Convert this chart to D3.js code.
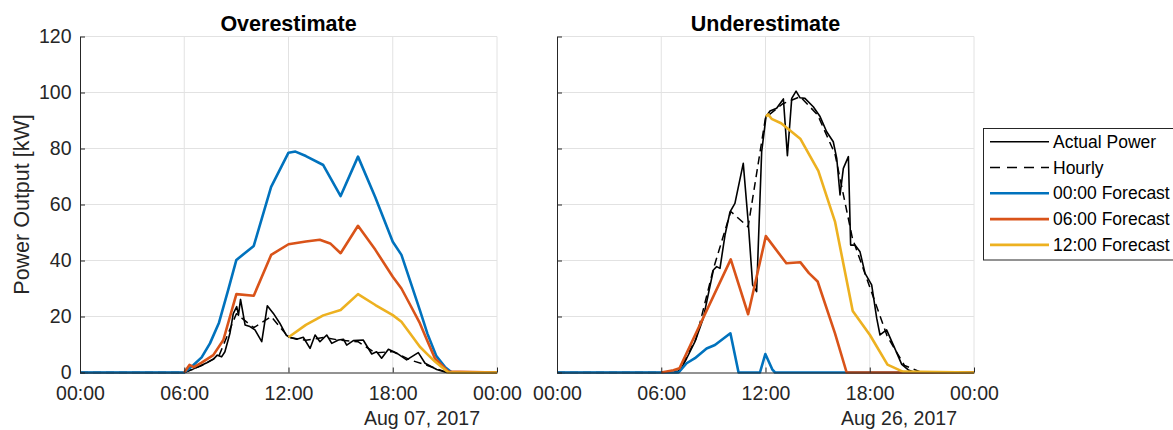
<!DOCTYPE html>
<html>
<head>
<meta charset="utf-8">
<script src="https://cdn.jsdelivr.net/npm/d3@7"></script>
<style>
  body { margin: 0; background: #fff; }
  svg { display: block; font-family: "Liberation Sans", Arial, Helvetica, sans-serif; }
</style>
</head>
<body>
<svg id="chart" width="1173" height="430"></svg>
<script>
// ---- Axis ticks ----
const hourTicks = [0, 6, 12, 18, 24];
const hourTickLabels = ["00:00", "06:00", "12:00", "18:00", "00:00"];
const powerTicks = [0, 20, 40, 60, 80, 100, 120];

// ---- Panel titles and dates ----
const panelTitles = ["Overestimate", "Underestimate"];
const panelDates = ["Aug 07, 2017", "Aug 26, 2017"];
const seriesNames = ["Actual Power", "Hourly", "00:00 Forecast", "06:00 Forecast", "12:00 Forecast"];

// ---- Aug 07, 2017 (overestimate) ----
const overActualTime = [0, 6.0, 6.5, 6.9, 7.3, 7.67, 7.9, 8.15, 8.34, 8.63, 8.82, 9.02, 9.12, 9.24, 9.5, 9.78, 10.07, 10.46, 10.78, 11.13, 11.5, 11.86, 12.05, 12.47, 12.85, 13.24, 13.53, 13.81, 14.2, 14.49, 14.87, 15.16, 15.35, 15.73, 16.3, 16.79, 17.07, 17.36, 17.75, 18.23, 18.8, 19.47, 19.86, 20.53, 21.1, 24];
const overActualKW = [0, 0, 1.2, 2.3, 3.5, 4.7, 6.2, 5.6, 7.4, 14, 21, 23.5, 20.5, 26.1, 17, 16.4, 15.2, 11, 23.8, 21.1, 17.6, 13.4, 12.6, 11.9, 12.6, 8.6, 13.4, 11, 13.4, 10.4, 11.6, 11.9, 9.8, 11.4, 11.6, 6.6, 7.4, 5.1, 8.3, 6.9, 4.5, 7.1, 3.3, 1.1, 0, 0];
const overHourlyTime = [0, 6, 7, 8, 9, 10, 11, 12, 13, 14, 15, 16, 17, 18, 19, 20, 21, 22, 24];
const overHourlyKW = [0, 0, 2.5, 6, 21, 16, 20, 12.6, 11.5, 12.5, 11.5, 11, 7, 7.5, 4.5, 2.5, 0.3, 0, 0];
const overF00Time = [0, 6, 6.53, 7, 7.48, 8, 8.53, 9, 10, 11, 12, 12.4, 13, 14, 15, 16, 17, 18, 18.5, 19, 19.56, 20, 20.5, 21, 21.4, 24];
const overF00KW = [0, 0, 2.7, 5.4, 10.4, 17.8, 29.5, 40.2, 45.2, 66.3, 78.5, 78.9, 77.3, 74.1, 63, 77.1, 62.5, 46.7, 42, 32.7, 22.3, 13.8, 6, 2, 0, 0];
const overF06Time = [6, 6.3, 6.55, 7, 7.67, 8.25, 9, 10, 11, 12, 13, 13.8, 14.4, 15, 16, 17, 18, 18.5, 19, 19.56, 20, 20.43, 21.2, 24];
const overF06KW = [0, 2.7, 1.9, 3.5, 6.2, 11.6, 28, 27.4, 42, 45.8, 46.8, 47.4, 46.1, 42.6, 52.4, 43.8, 34.2, 30, 24.2, 17.6, 11.2, 5, 0.3, 0];
const overF12Time = [12, 13, 14, 15, 16, 17, 18, 18.5, 19, 19.56, 20, 20.43, 21.2, 24];
const overF12KW = [12.6, 17, 20.4, 22.3, 28, 24.1, 20.5, 18.1, 13.9, 9.2, 6.5, 3.9, 0, 0];

// ---- Aug 26, 2017 (underestimate) ----
const underActualTime = [0, 6.9, 7.08, 7.46, 7.94, 8.42, 9.0, 9.19, 9.38, 9.67, 9.96, 10.24, 10.72, 11.01, 11.26, 11.49, 11.78, 12.03, 12.26, 12.64, 13.03, 13.26, 13.51, 13.76, 13.99, 14.27, 14.75, 15.14, 15.52, 15.9, 16.1, 16.29, 16.48, 16.77, 16.9, 17.15, 17.44, 17.73, 18.11, 18.4, 18.59, 18.97, 19.36, 19.84, 20.22, 20.6, 24];
const underActualKW = [0, 0, 0.7, 5, 11, 19.4, 36.6, 37.8, 37.2, 49.1, 57.4, 60.4, 74.7, 53.3, 31.3, 28.9, 78.9, 91.4, 93.4, 94.4, 97.7, 77.4, 97.9, 100.5, 98.1, 97.9, 94.9, 91.4, 86, 82.4, 76.5, 63.4, 72.9, 77.1, 45.5, 45.5, 43.1, 35.4, 31.3, 19.4, 13.4, 15.2, 9.8, 2.9, 0.9, 0, 0];
const underHourlyTime = [0, 6, 7, 8, 9, 10, 11, 12, 13, 14, 15, 16, 17, 18, 19, 20, 21, 24];
const underHourlyKW = [0, 0, 0.5, 12, 37, 57.5, 52, 91, 96, 98.5, 92, 78, 48, 30.5, 13, 2.5, 0, 0];
const underF00Time = [0, 7, 7.46, 7.94, 8.61, 9.09, 9.98, 10.45, 11.68, 11.99, 12.4, 12.55, 24];
const underF00KW = [0, 0, 3.3, 5.1, 8.6, 9.8, 14, 0, 0, 6.6, 1, 0, 0];
const underF06Time = [6, 6.7, 7.05, 10, 11, 12.02, 13.2, 14, 14.5, 15, 16, 16.67, 24];
const underF06KW = [0, 0.8, 1.5, 40.4, 20.8, 48.7, 39, 39.4, 35.5, 32.5, 14, 0, 0];
const underF12Time = [12.03, 12.15, 12.35, 12.9, 14.0, 15.04, 16.0, 17.02, 18.01, 19.02, 19.9, 24];
const underF12KW = [91.4, 92.2, 90.6, 89, 83.5, 72, 53.9, 22, 13.4, 2.8, 0.3, 0];

// ---- Styling ----
const seriesColors = ["#000000", "#000000", "#0072BD", "#D95319", "#EDB120"];
const seriesWidths = [1.6, 1.5, 2.6, 2.6, 2.6];
const seriesDash = [null, "8,5", null, null, null];
const axisColor = "#262626";
const gridColor = "#e2e2e2";

const zip = (t, v) => t.map((h, i) => [h, v[i]]);

const panels = [
  {
    title: panelTitles[0], date: panelDates[0], left: 80, showYLabels: true,
    series: [zip(overActualTime, overActualKW), zip(overHourlyTime, overHourlyKW),
             zip(overF00Time, overF00KW), zip(overF06Time, overF06KW), zip(overF12Time, overF12KW)]
  },
  {
    title: panelTitles[1], date: panelDates[1], left: 557, showYLabels: false,
    series: [zip(underActualTime, underActualKW), zip(underHourlyTime, underHourlyKW),
             zip(underF00Time, underF00KW), zip(underF06Time, underF06KW), zip(underF12Time, underF12KW)]
  }
];

const plotWidth = 417;
const plotTop = 36.5, plotBottom = 372.5;
const svg = d3.select("#chart");

panels.forEach(p => {
  const x = d3.scaleLinear().domain([0, 24]).range([p.left, p.left + plotWidth]);
  const y = d3.scaleLinear().domain([0, 120]).range([plotBottom, plotTop]);
  const g = svg.append("g");

  // grid
  g.append("g").selectAll("line.h").data(powerTicks.slice(1)).join("line")
    .attr("x1", x(0)).attr("x2", x(24)).attr("y1", d => y(d)).attr("y2", d => y(d))
    .attr("stroke", gridColor).attr("stroke-width", 1);
  g.append("g").selectAll("line.v").data(hourTicks.slice(1)).join("line")
    .attr("x1", d => x(d)).attr("x2", d => x(d)).attr("y1", y(0)).attr("y2", y(120))
    .attr("stroke", gridColor).attr("stroke-width", 1);

  // series
  const line = d3.line().x(d => x(d[0])).y(d => y(d[1]));
  p.series.forEach((data, i) => {
    g.append("path").datum(data)
      .attr("d", line)
      .attr("fill", "none")
      .attr("stroke", seriesColors[i])
      .attr("stroke-width", seriesWidths[i])
      .attr("stroke-linejoin", "round")
      .attr("stroke-dasharray", seriesDash[i]);
  });

  // axes
  const xAxis = d3.axisBottom(x).tickValues(hourTicks)
    .tickFormat((d, i) => hourTickLabels[i])
    .tickSizeInner(-5).tickSizeOuter(0).tickPadding(13.5);
  const yAxis = d3.axisLeft(y).tickValues(powerTicks)
    .tickFormat(p.showYLabels ? d3.format("d") : () => "")
    .tickSizeInner(-5).tickSizeOuter(0).tickPadding(8.5);

  const xg = g.append("g").attr("transform", `translate(0,${plotBottom})`).call(xAxis);
  const yg = g.append("g").attr("transform", `translate(${p.left},0)`).call(yAxis);
  [xg, yg].forEach(a => {
    a.select(".domain").attr("stroke", axisColor).attr("stroke-width", 1);
    a.selectAll(".tick line").attr("stroke", axisColor);
    a.selectAll(".tick text").attr("fill", axisColor)
      .style("font-size", "19.5px").style("font-family", "'Liberation Sans', Arial, sans-serif");
  });

  // title
  g.append("text").attr("x", x(12)).attr("y", 31)
    .attr("text-anchor", "middle").attr("font-weight", "bold")
    .attr("font-size", "21.5px").attr("fill", "#000").text(p.title);

  // date label
  g.append("text").attr("x", x(24) - 17).attr("y", 425)
    .attr("text-anchor", "end").attr("font-size", "19.5px")
    .attr("fill", axisColor).text(p.date);
});

// y label
svg.append("text")
  .attr("transform", `translate(29,${(plotTop + plotBottom) / 2}) rotate(-90)`)
  .attr("text-anchor", "middle").attr("font-size", "21.5px")
  .attr("fill", axisColor).text("Power Output [kW]");

// legend
const legend = svg.append("g");
legend.append("rect").attr("x", 983.5).attr("y", 128.5).attr("width", 200).attr("height", 131.5)
  .attr("fill", "#fff").attr("stroke", axisColor).attr("stroke-width", 1);
seriesNames.forEach((name, i) => {
  const ly = 141.7 + i * 25.8;
  legend.append("line").attr("x1", 990).attr("x2", 1049).attr("y1", ly).attr("y2", ly)
    .attr("stroke", seriesColors[i]).attr("stroke-width", i < 2 ? 1.6 : 2.6)
    .attr("stroke-dasharray", i === 1 ? "10,7" : null);
  legend.append("text").attr("x", 1053).attr("y", ly).attr("dy", "0.35em")
    .attr("font-size", "17.5px").attr("fill", "#000").text(name);
});
</script>
</body>
</html>
